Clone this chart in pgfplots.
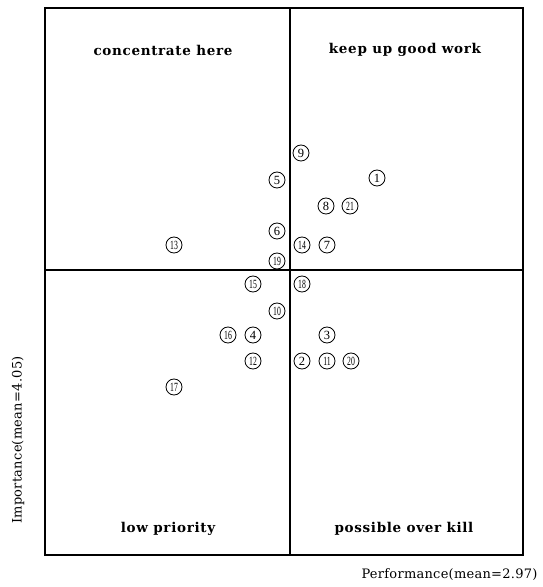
\documentclass[border=0pt]{standalone}
\usepackage{fontspec}
\setmainfont{DejaVu Serif}
\newfontfamily\numfont{Liberation Serif}
\usepackage{graphicx}
\usepackage{pgfplots}
\usepackage{pgfplotstable}
\pgfplotsset{compat=1.18}
\newcommand{\cnum}[1]{{\numfont\fontsize{12.5}{12.5}\selectfont\ifnum#1>9 \scalebox{0.62}[1]{#1}\else #1\fi}}
\pgfplotstableread{
x y lab
377 377 1
302 194 2
327 220 3
253 220 4
277 375 5
277 324 6
327 310 7
326 349 8
301 402 9
277 244 10
327 194 11
253 194 12
174 310 13
302 310 14
253 271 15
228 220 16
174 168 17
302 271 18
277 294 19
351 194 20
350 349 21
}\pts
\begin{document}
\begin{tikzpicture}
\begin{axis}[
  scale only axis, width=478pt, height=547pt,
  xmin=45, xmax=523, ymin=0, ymax=547,
  xtick=\empty, ytick=\empty,
  axis line style={line width=1.3pt},
  clip=false,
]
\path (axis cs:0,-32) rectangle (axis cs:543,555);
\addplot[line width=1.3pt, black] coordinates {(290,0) (290,547)};
\addplot[line width=1.3pt, black] coordinates {(45,285) (523,285)};
\addplot[only marks, mark=none, point meta=explicit symbolic,
  nodes near coords={\cnum{\pgfplotspointmeta}},
  every node near coord/.style={circle, draw, line width=0.8pt, minimum size=16pt, inner sep=0pt, anchor=center}]
  table[x=x, y=y, meta=lab] {\pts};
\node[font=\bfseries\fontsize{13.5}{13.5}\selectfont\addfontfeature{LetterSpace=5}] at (axis cs:163,505) {concentrate here};
\node[font=\bfseries\fontsize{13.5}{13.5}\selectfont\addfontfeature{LetterSpace=5}] at (axis cs:405,505) {keep up good work};
\node[font=\bfseries\fontsize{13.5}{13.5}\selectfont\addfontfeature{LetterSpace=5}] at (axis cs:168,26) {low priority};
\node[font=\bfseries\fontsize{13.5}{13.5}\selectfont\addfontfeature{LetterSpace=5}] at (axis cs:404,26) {possible over kill};
\node[font=\fontsize{13}{13}\selectfont\addfontfeature{LetterSpace=2}, anchor=east] at (axis cs:541,-20) {Performance(mean=2.97)};
\node[font=\fontsize{13}{13}\selectfont\addfontfeature{LetterSpace=2}, rotate=90] at (axis cs:18,115) {Importance(mean=4.05)};
\end{axis}
\end{tikzpicture}
\end{document}
